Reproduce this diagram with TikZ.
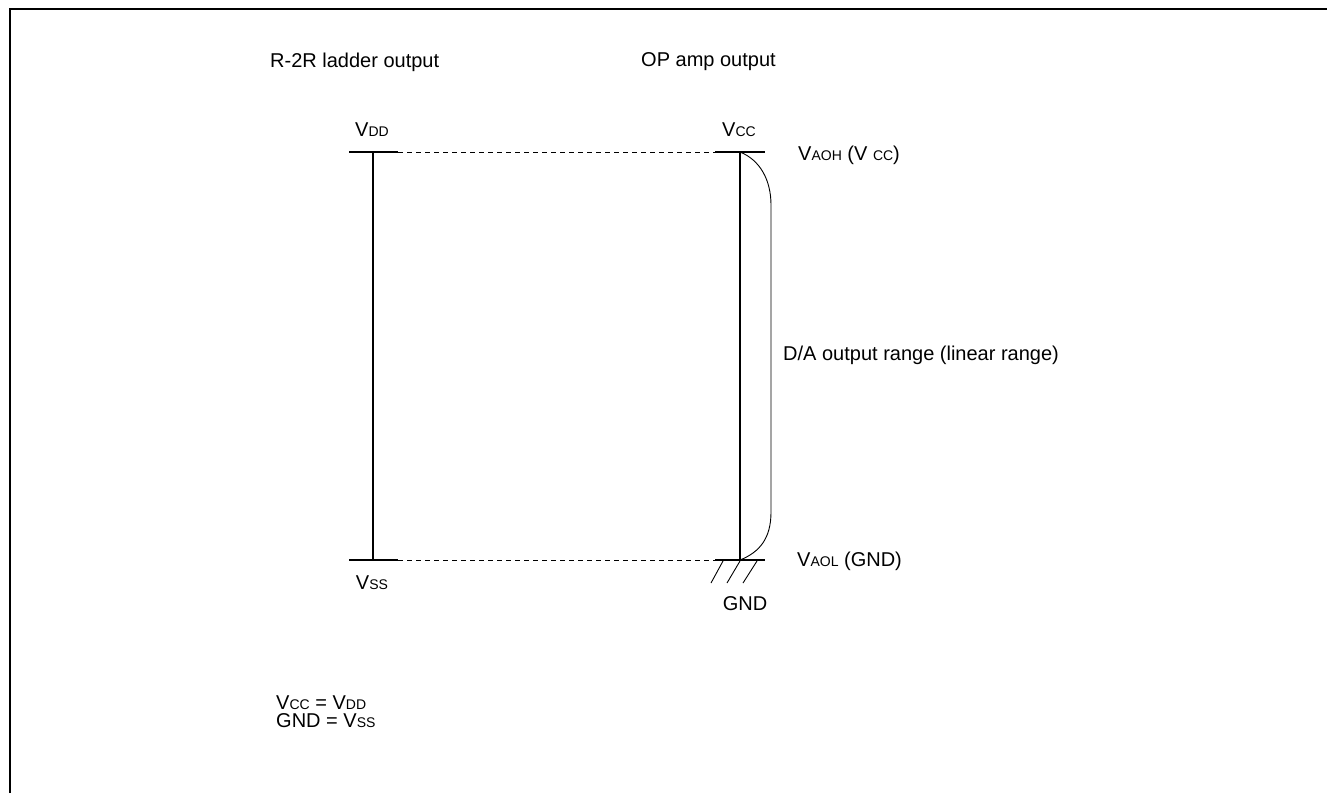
\documentclass[tikz,border=0pt]{standalone}
\usepackage{fontspec}
\setmainfont{Liberation Sans}
\newcommand{\subs}[1]{{\fontsize{14}{16}\selectfont #1}}
\begin{document}
\begin{tikzpicture}[x=1pt,y=-1pt,
  bar/.style={line width=2.2pt},
  tick/.style={line width=2.2pt},
  guide/.style={dash pattern=on 5pt off 4pt, line width=0.8pt},
  thin/.style={line width=0.9pt},
  lbl/.style={font=\fontsize{20}{23}\selectfont, inner sep=0pt}]
\useasboundingbox (0,0) rectangle (1327,793);
% frame
\draw[line width=2pt] (10,793) -- (10,9) -- (1327,9);
% coordinates
\coordinate (Ltop) at (373,152);
\coordinate (Lbot) at (373,560);
\coordinate (Rtop) at (740,152);
\coordinate (Rbot) at (740,560);
\coordinate (LtopA) at (349,152); \coordinate (LtopB) at (398,152);
\coordinate (LbotA) at (349,560); \coordinate (LbotB) at (398,560);
\coordinate (RtopA) at (715,152); \coordinate (RtopB) at (765,152);
\coordinate (RbotA) at (715,560); \coordinate (RbotB) at (765,560);
% bars
\draw[bar] (Ltop) -- (Lbot);
\draw[bar] (Rtop) -- (Rbot);
\draw[tick] (LtopA) -- (LtopB);
\draw[tick] (LbotA) -- (LbotB);
\draw[tick] (RtopA) -- (RtopB);
\draw[tick] (RbotA) -- (RbotB);
% dashed guides
\draw[guide] (LtopB) -- (RtopA);
\draw[guide] (LbotB) -- (RbotA);
% range brace
\draw[thin] (Rtop) .. controls (760,160) and (771,180) .. (771,205) -- (771,512) .. controls (771,538) and (760,552) .. (Rbot);
% ground hatch
\draw[thin] (723,561) -- (711,583);
\draw[thin] (740,561) -- (727,583);
\draw[thin] (757,561) -- (743,583);
% labels
\node[lbl, anchor=west] (t1) at (270,62) {R-2R ladder output};
\node[lbl, anchor=west] (t2) at (641,62) {OP amp output};
\node[lbl] (vdd) at (372,130) {V\subs{DD}};
\node[lbl] (vcc) at (739,130) {V\subs{CC}};
\node[lbl, anchor=west] (vaoh) at (798,155) {V\subs{AOH} (V \subs{CC})};
\node[lbl, anchor=west] (range) at (783,355) {D/A output range (linear range)};
\node[lbl, anchor=west] (vaol) at (797,561) {V\subs{AOL} (GND)};
\node[lbl] (gnd) at (745,604) {GND};
\node[lbl] (vss) at (372,583) {V\subs{SS}};
\node[lbl, anchor=west] (eq1) at (276,703) {V\subs{CC} = V\subs{DD}};
\node[lbl, anchor=west] (eq2) at (276,721) {GND = V\subs{SS}};
\end{tikzpicture}
\end{document}
